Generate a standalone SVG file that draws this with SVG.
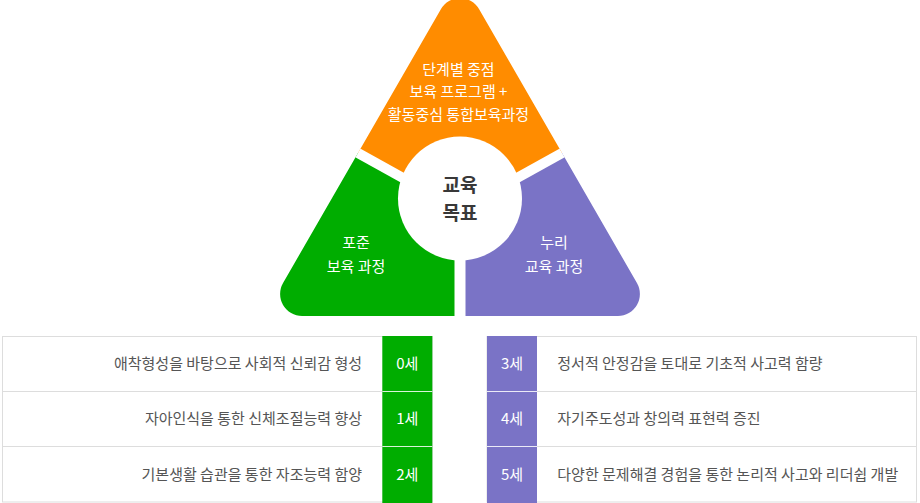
<svg xmlns="http://www.w3.org/2000/svg" width="920" height="503" viewBox="0 0 920 503">
  <style>
    .t { font-family: "Noto Sans CJK KR", "Noto Sans", sans-serif; font-size: 15px; }
    .w { fill: #ffffff; }
    .g { fill: #555555; }
    .mid { text-anchor: middle; }
    .end { text-anchor: end; }
    .sep { stroke: #ffffff; fill: none; }
    .row { stroke: #dddddd; stroke-width: 1; }
    .rowc { stroke: #ffffff; stroke-opacity: 0.85; stroke-width: 1; }
  </style>
  <defs>
    <clipPath id="tri">
      <path d="M441,9 A22,22 0 0 1 479,9 L636.95,283 A22,22 0 0 1 617.9,316 L302.1,316 A22,22 0 0 1 283.05,283 Z"/>
    </clipPath>
  </defs>
  <rect width="920" height="503" fill="#ffffff"/>

  <g id="triangle" clip-path="url(#tri)">
    <g id="node-orange">
      <polygon points="460,209.6 285.1,112.6 250,-60 670,-60 634.9,112.6" fill="#ff8c00"/>
    </g>
    <g id="node-green">
      <polygon points="460,209.6 285.1,112.6 200,400 460,400" fill="#00ad00"/>
    </g>
    <g id="node-purple">
      <polygon points="460,209.6 634.9,112.6 720,400 460,400" fill="#7a73c6"/>
    </g>
    <g id="separators">
      <line class="sep" x1="460" y1="209.6" x2="285.1" y2="112.6" stroke-width="10"/>
      <line class="sep" x1="460" y1="209.6" x2="634.9" y2="112.6" stroke-width="10"/>
      <line class="sep" x1="460" y1="209.6" x2="460" y2="330" stroke-width="11"/>
    </g>
  </g>

  <g id="node-center">
    <circle cx="460" cy="198.5" r="62" fill="#ffffff"/>
    <text class="t mid" x="460" y="192" style="font-size:19px;font-weight:bold;" fill="#383838">교육</text>
    <text class="t mid" x="460" y="220" style="font-size:19px;font-weight:bold;" fill="#383838">목표</text>
  </g>

  <g id="label-orange">
    <text class="t w mid" x="458.5" y="74.5">단계별 중점</text>
    <text class="t w mid" x="458.5" y="97">보육 프로그램 +</text>
    <text class="t w mid" x="458.5" y="119.5">활동중심 통합보육과정</text>
  </g>
  <g id="label-green">
    <text class="t w mid" x="356" y="248">포준</text>
    <text class="t w mid" x="356" y="272">보육 과정</text>
  </g>
  <g id="label-purple">
    <text class="t w mid" x="554" y="248">누리</text>
    <text class="t w mid" x="554" y="272">교육 과정</text>
  </g>

  <g id="table-left">
    <rect x="2.5" y="336.5" width="430" height="165.5" fill="#ffffff" stroke="#dddddd"/>
    <line class="row" x1="2.5" y1="391.5" x2="432" y2="391.5"/>
    <line class="row" x1="2.5" y1="446.5" x2="432" y2="446.5"/>
    <rect x="382.3" y="336" width="50" height="167" fill="#00ad00"/>
    <line class="rowc" x1="382.3" y1="391.5" x2="432.3" y2="391.5"/>
    <line class="rowc" x1="382.3" y1="446.5" x2="432.3" y2="446.5"/>
    <g id="row-0">
      <text class="t g end" x="362" y="368.5">애착형성을 바탕으로 사회적 신뢰감 형성</text>
      <text class="t w mid" x="407.3" y="368.5">0세</text>
    </g>
    <g id="row-1">
      <text class="t g end" x="362" y="423.5">자아인식을 통한 신체조절능력 향상</text>
      <text class="t w mid" x="407.3" y="423.5">1세</text>
    </g>
    <g id="row-2">
      <text class="t g end" x="362" y="479.5">기본생활 습관을 통한 자조능력 함양</text>
      <text class="t w mid" x="407.3" y="479.5">2세</text>
    </g>
  </g>

  <g id="table-right">
    <rect x="487" y="336.5" width="429.5" height="165.5" fill="#ffffff" stroke="#dddddd"/>
    <line class="row" x1="487" y1="391.5" x2="916.5" y2="391.5"/>
    <line class="row" x1="487" y1="446.5" x2="916.5" y2="446.5"/>
    <rect x="487" y="336" width="50" height="167" fill="#7a73c6"/>
    <line class="rowc" x1="487" y1="391.5" x2="537" y2="391.5"/>
    <line class="rowc" x1="487" y1="446.5" x2="537" y2="446.5"/>
    <g id="row-3">
      <text class="t w mid" x="512" y="368.5">3세</text>
      <text class="t g" x="557.3" y="368.5">정서적 안정감을 토대로 기초적 사고력 함량</text>
    </g>
    <g id="row-4">
      <text class="t w mid" x="512" y="423.5">4세</text>
      <text class="t g" x="557.3" y="423.5">자기주도성과 창의력 표현력 증진</text>
    </g>
    <g id="row-5">
      <text class="t w mid" x="512" y="479.5">5세</text>
      <text class="t g" x="557.3" y="479.5">다양한 문제해결 경험을 통한 논리적 사고와 리더쉽 개발</text>
    </g>
  </g>
</svg>
